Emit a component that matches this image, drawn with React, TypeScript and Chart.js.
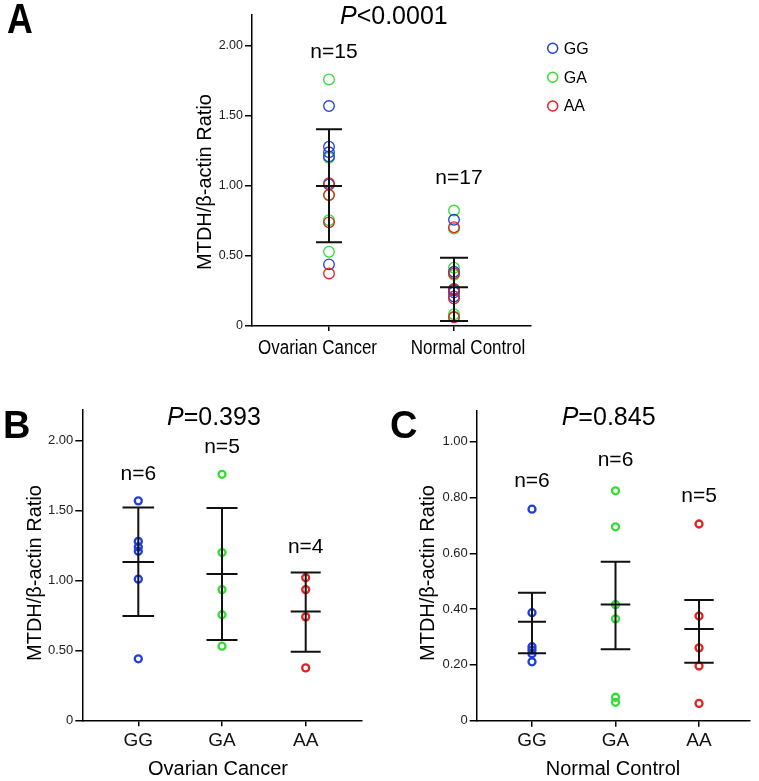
import React, { useEffect, useRef } from 'react';
import { Chart, registerables } from 'chart.js';

Chart.register(...registerables);

const FONT = '"Liberation Sans", Arial, Helvetica, sans-serif';

// ---------- data ----------
const genotypes = ['GG', 'GA', 'AA'];
const genotypeColors = ['#1f3fdc', '#33dd33', '#e02424'];

const groupsA = ['Ovarian Cancer', 'Normal Control'];
const ovarianGG = [1.57, 1.28, 1.24, 1.21, 1.01, 0.44];
const ovarianGA = [1.76, 1.2, 0.935, 0.755, 0.53];
const ovarianAA = [1.02, 0.935, 0.74, 0.375];
const normalGG = [0.758, 0.387, 0.265, 0.253, 0.24, 0.211];
const normalGA = [0.824, 0.695, 0.416, 0.365, 0.084, 0.066];
const normalAA = [0.705, 0.375, 0.261, 0.196, 0.062];

const meanA = [1.0, 0.276];
const upperA = [1.405, 0.488];
const lowerA = [0.598, 0.036];
const countsA = [15, 17];
const pTextA = '<0.0001';
const yTicksA = [0, 0.5, 1.0, 1.5, 2.0];

const meanB = [1.133, 1.047, 0.778];
const upperB = [1.522, 1.519, 1.057];
const lowerB = [0.747, 0.575, 0.491];
const countsB = [6, 5, 4];
const pTextB = '=0.393';
const yTicksB = [0, 0.5, 1.0, 1.5, 2.0];

const meanC = [0.355, 0.416, 0.329];
const upperC = [0.459, 0.57, 0.433];
const lowerC = [0.2415, 0.256, 0.208];
const countsC = [6, 6, 5];
const pTextC = '=0.845';
const yTicksC = [0, 0.2, 0.4, 0.6, 0.8, 1.0];

const yTitle = 'MTDH/β-actin Ratio';

// ---------- panel config ----------
type Series = { label: string; color: string; points: { x: number; y: number }[] };
type PanelCfg = {
  left: number; top: number; width: number; height: number;
  area: { left: number; right: number; top: number; bottom: number };
  xMin: number; xMax: number; yMax: number; yTicks: number[];
  xLabels: string[]; xTickFont: number; yTickFont: number; xTickLen: number;
  customXLabels?: { dx: number[]; y: number; size: number; squeeze: number };
  series: Series[]; radius: number; borderWidth: number;
  mean: number[]; upper: number[]; lower: number[]; capHalf: number[];
  letter: string; letterX: number; letterY: number; letterSize: number; letterSqueeze: number;
  pRest: string; pX: number; pY: number;
  counts: number[]; countY: number[]; countDx: number; countSize: number;
  yTitleX: number; yTitleY: number;
  xTitle?: string; xTitleX?: number; xTitleY?: number;
  legend?: { x: number; ys: number[]; r: number };
};

const pts = (vals: number[], x: number) => vals.map((v) => ({ x, y: v }));

const cfgA: PanelCfg = {
  left: 0, top: 0, width: 759, height: 375,
  area: { left: 252, right: 531, top: 15, bottom: 326 },
  xMin: -0.616, xMax: 1.616, yMax: 2.22, yTicks: yTicksA,
  xLabels: groupsA, xTickFont: 20, yTickFont: 12.5, xTickLen: 5,
  customXLabels: { dx: [-11.5, 14], y: 354, size: 20, squeeze: 0.85 },
  series: [
    { label: genotypes[2], color: genotypeColors[2], points: [...pts(ovarianAA, 0), ...pts(normalAA, 1)] },
    { label: genotypes[0], color: genotypeColors[0], points: [...pts(ovarianGG, 0), ...pts(normalGG, 1)] },
    { label: genotypes[1], color: genotypeColors[1], points: [...pts(ovarianGA, 0), ...pts(normalGA, 1)] },
  ],
  radius: 5.3, borderWidth: 1.3,
  mean: meanA, upper: upperA, lower: lowerA, capHalf: [13, 14],
  letter: 'A', letterX: 7, letterY: 33, letterSize: 42, letterSqueeze: 0.85,
  pRest: pTextA, pX: 340, pY: 24,
  counts: countsA, countY: [58, 184], countDx: 5, countSize: 21,
  yTitleX: 205.5, yTitleY: 182,
  legend: { x: 552.7, ys: [48.3, 77.3, 106], r: 5 },
};

const cfgB: PanelCfg = {
  left: 0, top: 375, width: 380, height: 406,
  area: { left: 82.3, right: 361.7, top: 35, bottom: 345.3 },
  xMin: -0.669, xMax: 2.669, yMax: 2.22, yTicks: yTicksB,
  xLabels: genotypes, xTickFont: 19, yTickFont: 13, xTickLen: 6,
  series: [
    { label: genotypes[0], color: genotypeColors[0], points: pts(ovarianGG, 0) },
    { label: genotypes[1], color: genotypeColors[1], points: pts(ovarianGA, 1) },
    { label: genotypes[2], color: genotypeColors[2], points: pts(ovarianAA, 2) },
  ],
  radius: 3.5, borderWidth: 2.3,
  mean: meanB, upper: upperB, lower: lowerB, capHalf: [15.8, 15.5, 15],
  letter: 'B', letterX: 3, letterY: 63, letterSize: 38, letterSqueeze: 1,
  pRest: pTextB, pX: 167, pY: 50,
  counts: countsB, countY: [105, 77.7, 177.7], countDx: 0, countSize: 21,
  yTitleX: 35.5, yTitleY: 198,
  xTitle: 'Ovarian Cancer', xTitleX: 218, xTitleY: 400,
};

const cfgC: PanelCfg = {
  left: 380, top: 375, width: 379, height: 406,
  area: { left: 96.7, right: 369.3, top: 35.7, bottom: 345.7 },
  xMin: -0.662, xMax: 2.602, yMax: 1.111, yTicks: yTicksC,
  xLabels: genotypes, xTickFont: 19, yTickFont: 13, xTickLen: 6,
  series: [
    { label: genotypes[0], color: genotypeColors[0], points: pts(normalGG, 0) },
    { label: genotypes[1], color: genotypeColors[1], points: pts(normalGA, 1) },
    { label: genotypes[2], color: genotypeColors[2], points: pts(normalAA, 2) },
  ],
  radius: 3.5, borderWidth: 2.3,
  mean: meanC, upper: upperC, lower: lowerC, capHalf: [14, 14.8, 14.7],
  letter: 'C', letterX: 10, letterY: 63, letterSize: 38, letterSqueeze: 1,
  pRest: pTextC, pX: 181.7, pY: 50,
  counts: countsC, countY: [112.3, 91, 126.7], countDx: 0, countSize: 21,
  yTitleX: 48, yTitleY: 198,
  xTitle: 'Normal Control', xTitleX: 233, xTitleY: 400,
};

function overlayPlugin(cfg: PanelCfg) {
  return {
    id: 'overlay_' + cfg.letter,
    afterDatasetsDraw(chart: any) {
      const ctx: CanvasRenderingContext2D = chart.ctx;
      const xs = chart.scales.x;
      const ys = chart.scales.y;
      ctx.save();
      // error bars
      ctx.strokeStyle = '#111';
      ctx.lineWidth = 2;
      cfg.mean.forEach((m, i) => {
        const px = xs.getPixelForValue(i);
        const yU = ys.getPixelForValue(cfg.upper[i]);
        const yM = ys.getPixelForValue(m);
        const yL = ys.getPixelForValue(cfg.lower[i]);
        const h = cfg.capHalf[i];
        ctx.beginPath();
        ctx.moveTo(px, yU);
        ctx.lineTo(px, yL);
        [yU, yM, yL].forEach((yy) => {
          ctx.moveTo(px - h, yy);
          ctx.lineTo(px + h, yy);
        });
        ctx.stroke();
      });
      ctx.fillStyle = '#000';
      // panel letter
      ctx.save();
      ctx.translate(cfg.letterX, cfg.letterY);
      ctx.scale(cfg.letterSqueeze, 1);
      ctx.textAlign = 'left';
      ctx.textBaseline = 'alphabetic';
      ctx.font = `bold ${cfg.letterSize}px ${FONT}`;
      ctx.fillText(cfg.letter, 0, 0);
      ctx.restore();
      ctx.textAlign = 'left';
      ctx.textBaseline = 'alphabetic';
      // P value
      ctx.font = `italic 25px ${FONT}`;
      ctx.fillText('P', cfg.pX, cfg.pY);
      const pw = ctx.measureText('P').width;
      ctx.font = `25px ${FONT}`;
      ctx.fillText(cfg.pRest, cfg.pX + pw, cfg.pY);
      // n labels
      ctx.textAlign = 'center';
      ctx.font = `${cfg.countSize}px ${FONT}`;
      cfg.counts.forEach((n, i) => {
        ctx.fillText('n=' + n, xs.getPixelForValue(i) + cfg.countDx, cfg.countY[i]);
      });
      // custom category labels (panel A)
      if (cfg.customXLabels) {
        const cl = cfg.customXLabels;
        cfg.xLabels.forEach((lab, i) => {
          ctx.save();
          ctx.translate(xs.getPixelForValue(i) + cl.dx[i], cl.y);
          ctx.scale(cl.squeeze, 1);
          ctx.textAlign = 'center';
          ctx.textBaseline = 'alphabetic';
          ctx.font = `${cl.size}px ${FONT}`;
          ctx.fillText(lab, 0, 0);
          ctx.restore();
        });
      }
      // y title
      ctx.save();
      ctx.translate(cfg.yTitleX, cfg.yTitleY);
      ctx.rotate(-Math.PI / 2);
      ctx.textAlign = 'center';
      ctx.textBaseline = 'middle';
      ctx.font = `20px ${FONT}`;
      ctx.fillText(yTitle, 0, 0);
      ctx.restore();
      // x title
      if (cfg.xTitle) {
        ctx.textAlign = 'center';
        ctx.textBaseline = 'alphabetic';
        ctx.font = `20px ${FONT}`;
        ctx.fillText(cfg.xTitle, cfg.xTitleX as number, cfg.xTitleY as number);
      }
      // legend
      if (cfg.legend) {
        const lg = cfg.legend;
        genotypes.forEach((g, i) => {
          ctx.beginPath();
          ctx.strokeStyle = genotypeColors[i];
          ctx.lineWidth = 1.5;
          ctx.arc(lg.x, lg.ys[i], lg.r, 0, Math.PI * 2);
          ctx.stroke();
          ctx.fillStyle = '#000';
          ctx.textAlign = 'left';
          ctx.textBaseline = 'middle';
          ctx.font = `16px ${FONT}`;
          ctx.fillText(g, lg.x + 11, lg.ys[i] + 1);
        });
      }
      ctx.restore();
    },
  };
}

function Panel({ cfg }: { cfg: PanelCfg }) {
  const ref = useRef<HTMLCanvasElement | null>(null);
  useEffect(() => {
    if (!ref.current) return;
    const chart = new Chart(ref.current, {
      type: 'scatter',
      data: {
        datasets: cfg.series.map((s) => ({
          label: s.label,
          data: s.points,
          borderColor: s.color,
          backgroundColor: 'rgba(0,0,0,0)',
          pointRadius: cfg.radius,
          pointBorderWidth: cfg.borderWidth,
          pointHoverRadius: cfg.radius,
          showLine: false,
        })),
      },
      options: {
        animation: false,
        responsive: false,
        devicePixelRatio: 1,
        layout: { padding: { left: 0, top: cfg.area.top, right: cfg.width - cfg.area.right, bottom: 0 } },
        plugins: { legend: { display: false }, tooltip: { enabled: false }, title: { display: false } },
        scales: {
          x: {
            type: 'linear',
            min: cfg.xMin,
            max: cfg.xMax,
            afterFit: (s: any) => { s.height = cfg.height - cfg.area.bottom; },
            afterBuildTicks: (s: any) => { s.ticks = cfg.xLabels.map((_, i) => ({ value: i })); },
            ticks: {
              callback: (v: any) => (cfg.customXLabels ? '' : cfg.xLabels[Math.round(Number(v))] ?? ''),
              font: { family: FONT, size: cfg.xTickFont },
              color: '#111',
              padding: 3,
              maxRotation: 0,
              autoSkip: false,
            },
            grid: { drawOnChartArea: false, color: '#000', tickLength: cfg.xTickLen, lineWidth: 1.5 },
            border: { color: '#000', width: 1.5 },
          },
          y: {
            type: 'linear',
            min: 0,
            max: cfg.yMax,
            afterFit: (s: any) => { s.width = cfg.area.left; },
            afterBuildTicks: (s: any) => { s.ticks = cfg.yTicks.map((v) => ({ value: v })); },
            ticks: {
              callback: (v: any) => (Number(v) === 0 ? '0' : Number(v).toFixed(2)),
              font: { family: FONT, size: cfg.yTickFont },
              color: '#222',
              padding: 2,
              autoSkip: false,
            },
            grid: { drawOnChartArea: false, color: '#000', tickLength: 7, lineWidth: 1.5 },
            border: { color: '#000', width: 1.5 },
          },
        },
      },
      plugins: [overlayPlugin(cfg)],
    } as any);
    return () => chart.destroy();
  }, [cfg]);
  return (
    <canvas
      ref={ref}
      width={cfg.width}
      height={cfg.height}
      style={{ position: 'absolute', left: cfg.left, top: cfg.top, width: cfg.width, height: cfg.height, display: 'block' }}
    />
  );
}

export default function App() {
  return (
    <div style={{ position: 'absolute', left: 0, top: 0, width: 759, height: 781, background: '#fff', overflow: 'hidden' }}>
      <Panel cfg={cfgA} />
      <Panel cfg={cfgB} />
      <Panel cfg={cfgC} />
    </div>
  );
}
